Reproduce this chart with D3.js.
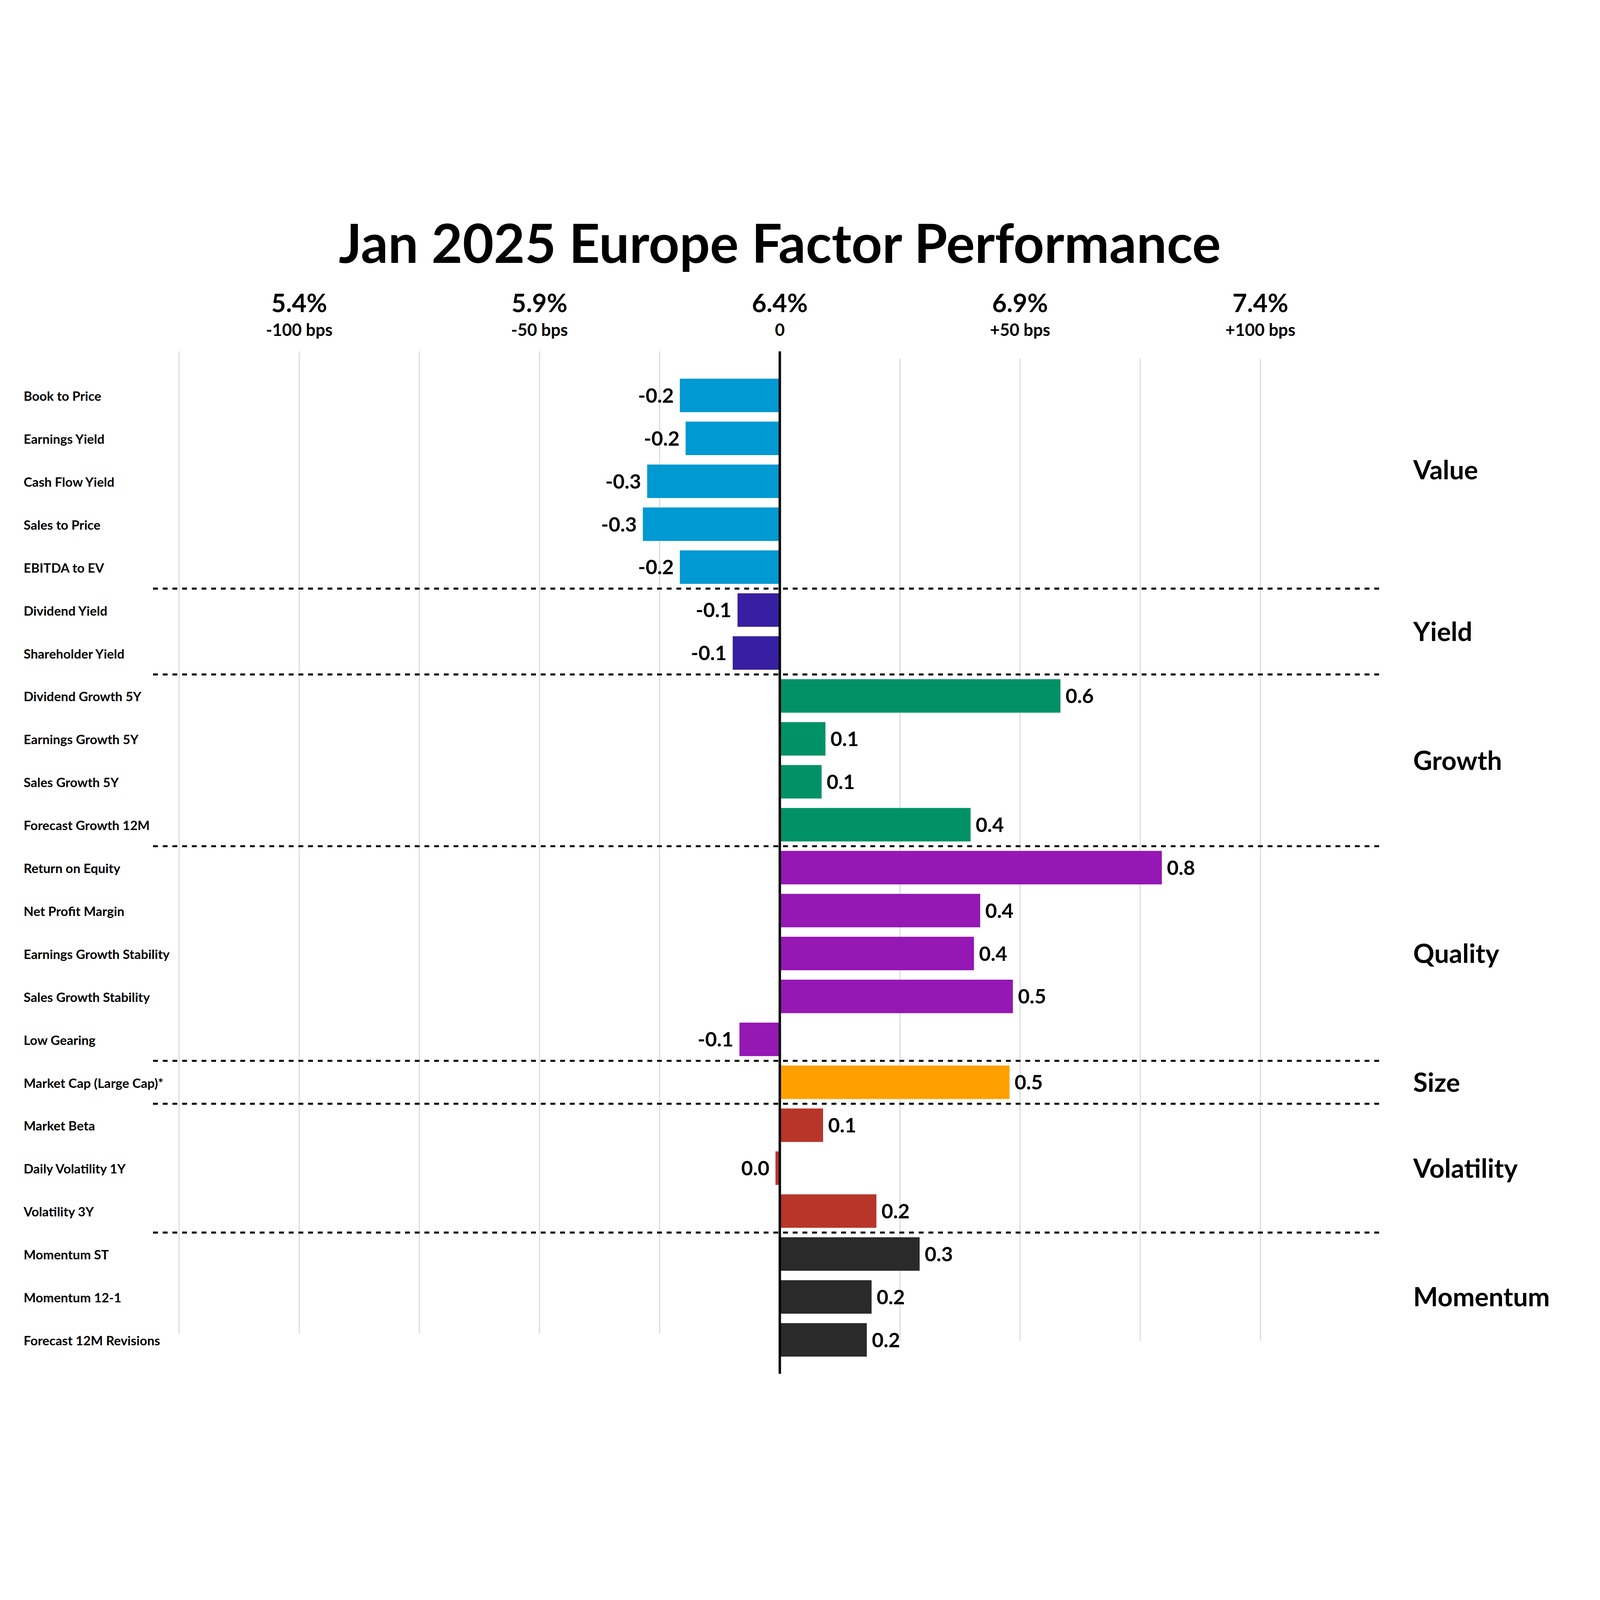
<!DOCTYPE html>
<html>
<head>
<meta charset="utf-8">
<script src="https://cdn.jsdelivr.net/npm/d3@7"></script>
<style>
  html, body { margin: 0; padding: 0; background: #fff; overflow: hidden; }
  #chart svg { display: block; }
  text { font-family: Lato, "Open Sans", sans-serif; fill: #000; }
</style>
</head>
<body>
<div id="chart"></div>
<script>
"use strict";

// factor names, top to bottom
const factors = [
  "Book to Price", "Earnings Yield", "Cash Flow Yield", "Sales to Price", "EBITDA to EV",
  "Dividend Yield", "Shareholder Yield",
  "Dividend Growth 5Y", "Earnings Growth 5Y", "Sales Growth 5Y", "Forecast Growth 12M",
  "Return on Equity", "Net Profit Margin", "Earnings Growth Stability", "Sales Growth Stability", "Low Gearing",
  "Market Cap (Large Cap)*",
  "Market Beta", "Daily Volatility 1Y", "Volatility 3Y",
  "Momentum ST", "Momentum 12-1", "Forecast 12M Revisions"
];

// group of each factor
const factorGroups = [
  "Value", "Value", "Value", "Value", "Value",
  "Yield", "Yield",
  "Growth", "Growth", "Growth", "Growth",
  "Quality", "Quality", "Quality", "Quality", "Quality",
  "Size",
  "Volatility", "Volatility", "Volatility",
  "Momentum", "Momentum", "Momentum"
];

// relative performance vs. benchmark (%)
const values = [
  -0.208, -0.196, -0.276, -0.285, -0.208,
  -0.088, -0.098,
  0.584, 0.095, 0.087, 0.397,
  0.795, 0.417, 0.404, 0.485, -0.084,
  0.478,
  0.090, -0.009, 0.201,
  0.291, 0.191, 0.181
];

const groups = ["Value", "Yield", "Growth", "Quality", "Size", "Volatility", "Momentum"];
const groupColors = ["#0099d2", "#361fa0", "#009266", "#9517b4", "#ffa000", "#b8352a", "#2a2a2a"];

// top axis labels
const topTicks = [-1, -0.5, 0, 0.5, 1];
const topPct = ["5.4%", "5.9%", "6.4%", "6.9%", "7.4%"];
const topBps = ["-100 bps", "-50 bps", "0", "+50 bps", "+100 bps"];

// gridlines on each side of the zero line
const gridLeft = [-1.25, -1, -0.75, -0.5, -0.25];
const gridRight = [0.25, 0.5, 0.75, 1];

const W = 7924, H = 6044;
const zeroX = 3862, unit = 2380;

//svg scales to the window, drawing space stays 7924x6044
const svg = d3.select("#chart").append("svg")
  .attr("viewBox", `0 0 ${W} ${H}`)
  .attr("preserveAspectRatio", "xMidYMid meet")
  .style("width", "100vw")
  .style("height", "100vh");

svg.append("rect")
  .attr("width", W).attr("height", H)
  .attr("fill", "#fff");

const x = d3.scaleLinear()
  .domain([-1, 1])
  .range([zeroX - unit, zeroX + unit]);

const y = d3.scaleBand()
  .domain(factors)
  .range([912, 5802])
  .paddingInner(0.22)
  .paddingOuter(0.11);

const color = d3.scaleOrdinal().domain(groups).range(groupColors);
const fmt = d3.formatLocale({ decimal: ".", thousands: ",", grouping: [3], currency: ["", ""], minus: "-" }).format(".1f");

const rows = factors.map((f, i) => ({ name: f, group: factorGroups[i], v: values[i] }));

//title
svg.append("text")
  .attr("x", zeroX)
  .attr("y", 362)
  .attr("text-anchor", "middle")
  .attr("font-size", 266)
  .attr("font-weight", 700)
  .text("Jan 2025 Europe Factor Performance");

//top labels
svg.selectAll("text.pct")
  .data(topTicks)
  .enter().append("text")
  .attr("class", "pct")
  .attr("x", d => x(d))
  .attr("y", 605)
  .attr("text-anchor", "middle")
  .attr("font-size", 125)
  .attr("font-weight", 700)
  .text((_, i) => topPct[i]);

svg.selectAll("text.bps")
  .data(topTicks)
  .enter().append("text")
  .attr("class", "bps")
  .attr("x", d => x(d))
  .attr("y", 724)
  .attr("text-anchor", "middle")
  .attr("font-size", 84)
  .attr("font-weight", 700)
  .text((_, i) => topBps[i]);

//gridlines
svg.selectAll("line.gl")
  .data(gridLeft)
  .enter().append("line")
  .attr("class", "gl")
  .attr("x1", d => x(d)).attr("x2", d => x(d))
  .attr("y1", 800).attr("y2", 5664)
  .attr("stroke", "#dddddd")
  .attr("stroke-width", 6);

svg.selectAll("line.gr")
  .data(gridRight)
  .enter().append("line")
  .attr("class", "gr")
  .attr("x1", d => x(d)).attr("x2", d => x(d))
  .attr("y1", 836).attr("y2", 5700)
  .attr("stroke", "#dddddd")
  .attr("stroke-width", 6);

//bars
svg.selectAll("rect.bar")
  .data(rows)
  .enter().append("rect")
  .attr("class", "bar")
  .attr("x", d => Math.min(x(0), x(d.v)))
  .attr("y", d => y(d.name))
  .attr("width", d => Math.abs(x(d.v) - x(0)))
  .attr("height", y.bandwidth())
  .attr("fill", d => color(d.group));

//value labels
svg.selectAll("text.val")
  .data(rows)
  .enter().append("text")
  .attr("class", "val")
  .attr("x", d => d.v < 0 ? x(d.v) - 30 : x(d.v) + 25)
  .attr("y", d => y(d.name) + y.bandwidth() / 2)
  .attr("dy", "0.36em")
  .attr("text-anchor", d => d.v < 0 ? "end" : "start")
  .attr("font-size", 100)
  .attr("font-weight", 700)
  .text(d => fmt(d.v));

//factor names
svg.selectAll("text.name")
  .data(rows)
  .enter().append("text")
  .attr("class", "name")
  .attr("x", 117)
  .attr("y", d => y(d.name) + y.bandwidth() / 2)
  .attr("dy", "0.42em")
  .attr("font-size", 64)
  .attr("font-weight", 700)
  .text(d => d.name);

//group separators and labels
const step = y.step(), gap = step - y.bandwidth();
const groupInfo = groups.map(g => {
  const members = rows.filter(r => r.group === g);
  const first = members[0], last = members[members.length - 1];
  return {
    name: g,
    top: y(first.name) - gap / 2,
    bottom: y(last.name) + y.bandwidth() + gap / 2
  };
});

svg.selectAll("line.sep")
  .data(groupInfo.slice(1))
  .enter().append("line")
  .attr("class", "sep")
  .attr("x1", 758).attr("x2", 6840)
  .attr("y1", d => d.top).attr("y2", d => d.top)
  .attr("stroke", "#000")
  .attr("stroke-width", 10)
  .attr("stroke-dasharray", "24 24");

svg.selectAll("text.grp")
  .data(groupInfo)
  .enter().append("text")
  .attr("class", "grp")
  .attr("x", 6999)
  .attr("y", (d, i) => {
    const top = i === 0 ? 800 : d.top;
    return (top + d.bottom) / 2;
  })
  .attr("dy", "0.36em")
  .attr("font-size", 130)
  .attr("font-weight", 700)
  .text(d => d.name);

//zero line
svg.append("line")
  .attr("x1", x(0)).attr("x2", x(0))
  .attr("y1", 800).attr("y2", 5864)
  .attr("stroke", "#000")
  .attr("stroke-width", 12);
</script>
</body>
</html>
